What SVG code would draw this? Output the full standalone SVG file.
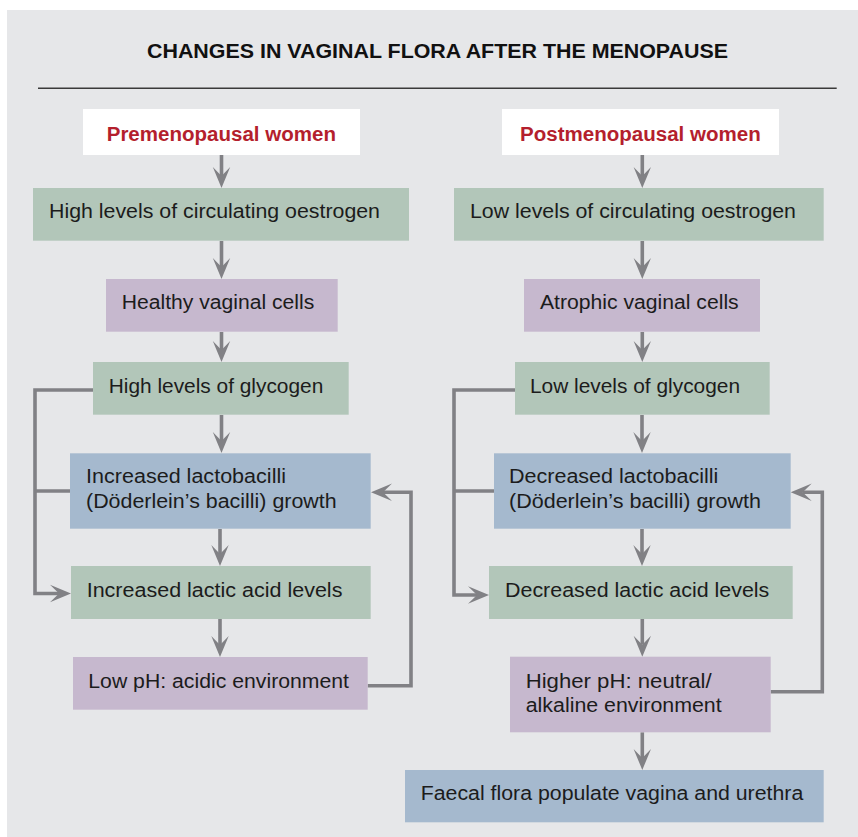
<svg xmlns="http://www.w3.org/2000/svg" width="858" height="837" viewBox="0 0 858 837">
<style>
.t{font-family:"Liberation Sans",Arial,sans-serif;font-size:19.5px;fill:#1c1c1c}
.h{font-family:"Liberation Sans",Arial,sans-serif;font-size:20px;font-weight:bold;fill:#b41f2d}
.g{fill:#b2c6b9}.p{fill:#c6b8ce}.b{fill:#a5b9ce}.w{fill:#ffffff}
.c{fill:none;stroke:#818185;stroke-width:3.6}
</style>
<defs>
<marker id="ah" markerUnits="userSpaceOnUse" viewBox="-22 -10 24 20" markerWidth="24" markerHeight="20" refX="-12" refY="0" orient="auto">
<path d="M0,0 L-21,-8.7 L-12,0 L-21,8.7 Z" fill="#818185"/>
</marker>
</defs>
<rect x="7" y="10" width="851" height="827" fill="#e6e7e9"/>
<g id="title">
<text x="147" y="58" style="font-family:'Liberation Sans',Arial,sans-serif;font-size:21px;font-weight:bold;fill:#111" textLength="581" lengthAdjust="spacingAndGlyphs">CHANGES IN VAGINAL FLORA AFTER THE MENOPAUSE</text>
<line x1="38" y1="88.3" x2="836.7" y2="88.3" stroke="#3a3a3a" stroke-width="1.6"/>
</g>
<g id="connectors">
<path class="c" marker-end="url(#ah)" d="M221.5,155 V176"/>
<path class="c" marker-end="url(#ah)" d="M221.5,241 V267"/>
<path class="c" marker-end="url(#ah)" d="M221.5,332 V350"/>
<path class="c" marker-end="url(#ah)" d="M221.5,415 V441"/>
<path class="c" marker-end="url(#ah)" d="M220,529 V554"/>
<path class="c" marker-end="url(#ah)" d="M220,619 V645"/>
<path class="c" marker-end="url(#ah)" d="M93,390 H35 V593.5 H59"/>
<path class="c" d="M70,491 H35"/>
<path class="c" marker-end="url(#ah)" d="M367.7,685.7 H411 V492.3 H383"/>
<path class="c" marker-end="url(#ah)" d="M642.3,155 V176"/>
<path class="c" marker-end="url(#ah)" d="M642.3,241 V267"/>
<path class="c" marker-end="url(#ah)" d="M642.3,332 V350"/>
<path class="c" marker-end="url(#ah)" d="M642,415 V441"/>
<path class="c" marker-end="url(#ah)" d="M642,529 V554"/>
<path class="c" marker-end="url(#ah)" d="M642.3,619 V644.7"/>
<path class="c" marker-end="url(#ah)" d="M642.3,732.3 V758"/>
<path class="c" marker-end="url(#ah)" d="M515,390 H454 V595 H477"/>
<path class="c" d="M494,491 H454"/>
<path class="c" marker-end="url(#ah)" d="M770.7,691.7 H822.3 V492.3 H802.7"/>
</g>
<g id="pre"><rect class="w" x="83" y="109" width="277" height="46"/><text class="h" x="106.7" y="140.7" textLength="229.3" lengthAdjust="spacingAndGlyphs">Premenopausal women</text></g>
<g id="high-oestrogen"><rect class="g" x="33" y="188" width="376" height="52.7"/><text class="t" x="49" y="218.3" textLength="331" lengthAdjust="spacingAndGlyphs">High levels of circulating oestrogen</text></g>
<g id="healthy-cells"><rect class="p" x="106" y="279" width="231.7" height="52.7"/><text class="t" x="121.7" y="309.3" textLength="192.6" lengthAdjust="spacingAndGlyphs">Healthy vaginal cells</text></g>
<g id="high-glycogen"><rect class="g" x="93" y="362" width="255.7" height="52.7"/><text class="t" x="108.7" y="392.7" textLength="214.6" lengthAdjust="spacingAndGlyphs">High levels of glycogen</text></g>
<g id="inc-lacto"><rect class="b" x="70" y="453.3" width="300.7" height="75.4"/><text class="t" x="86" y="483.3" textLength="200" lengthAdjust="spacingAndGlyphs">Increased lactobacilli</text><text class="t" x="86" y="508.3" textLength="250.7" lengthAdjust="spacingAndGlyphs">(Döderlein’s bacilli) growth</text></g>
<g id="inc-lactic"><rect class="g" x="71" y="566" width="299.7" height="53"/><text class="t" x="86.7" y="596.7" textLength="255.7" lengthAdjust="spacingAndGlyphs">Increased lactic acid levels</text></g>
<g id="low-ph"><rect class="p" x="73" y="657" width="294.7" height="52.7"/><text class="t" x="88.3" y="687.7" textLength="260.7" lengthAdjust="spacingAndGlyphs">Low pH: acidic environment</text></g>
<g id="post"><rect class="w" x="502" y="109" width="277" height="46"/><text class="h" x="520" y="140.7" textLength="240.7" lengthAdjust="spacingAndGlyphs">Postmenopausal women</text></g>
<g id="low-oestrogen"><rect class="g" x="454" y="188" width="369.7" height="52.7"/><text class="t" x="470" y="218.3" textLength="326" lengthAdjust="spacingAndGlyphs">Low levels of circulating oestrogen</text></g>
<g id="atrophic-cells"><rect class="p" x="524" y="279" width="236" height="52.7"/><text class="t" x="540" y="309.3" textLength="198.7" lengthAdjust="spacingAndGlyphs">Atrophic vaginal cells</text></g>
<g id="low-glycogen"><rect class="g" x="515" y="362" width="254.7" height="52.7"/><text class="t" x="530" y="392.7" textLength="210" lengthAdjust="spacingAndGlyphs">Low levels of glycogen</text></g>
<g id="dec-lacto"><rect class="b" x="494" y="453.3" width="296.7" height="75.4"/><text class="t" x="509" y="483.3" textLength="209.3" lengthAdjust="spacingAndGlyphs">Decreased lactobacilli</text><text class="t" x="509" y="508.3" textLength="252" lengthAdjust="spacingAndGlyphs">(Döderlein’s bacilli) growth</text></g>
<g id="dec-lactic"><rect class="g" x="489" y="566" width="303.7" height="53"/><text class="t" x="505" y="596.7" textLength="264.3" lengthAdjust="spacingAndGlyphs">Decreased lactic acid levels</text></g>
<g id="higher-ph"><rect class="p" x="510" y="656.7" width="260.7" height="75.6"/><text class="t" x="525.7" y="687.7" textLength="186" lengthAdjust="spacingAndGlyphs">Higher pH: neutral/</text><text class="t" x="525.7" y="712.3" textLength="196" lengthAdjust="spacingAndGlyphs">alkaline environment</text></g>
<g id="faecal"><rect class="b" x="405" y="770" width="418.7" height="52.3"/><text class="t" x="420.7" y="800" textLength="382.6" lengthAdjust="spacingAndGlyphs">Faecal flora populate vagina and urethra</text></g>
</svg>
